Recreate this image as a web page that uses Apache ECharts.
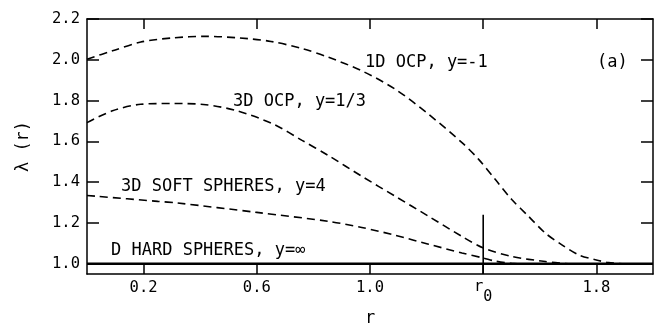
<!DOCTYPE html>
<html>
<head>
<meta charset="utf-8">
<script src="https://cdn.jsdelivr.net/npm/echarts@6/dist/echarts.min.js"></script>
<style>
html,body{margin:0;padding:0;background:#fff;}
#chart{width:657px;height:326px;}
</style>
</head>
<body>
<div id="chart"></div>
<script>
// ---- data ----
var ocp1dR = [0, 0.09, 0.19, 0.30, 0.42, 0.54, 0.65, 0.76, 0.854, 0.971, 1.089, 1.207, 1.325, 1.384, 1.443, 1.501, 1.56, 1.619, 1.678, 1.737, 1.796, 1.843, 1.90];
var ocp1dL = [2.003, 2.044, 2.087, 2.107, 2.115, 2.107, 2.090, 2.055, 2.012, 1.946, 1.856, 1.733, 1.594, 1.512, 1.413, 1.315, 1.233, 1.151, 1.093, 1.044, 1.020, 1.006, 1.0];

var ocp3dR = [0, 0.09, 0.19, 0.31, 0.42, 0.53, 0.66, 0.76, 0.854, 0.971, 1.089, 1.207, 1.325, 1.401, 1.501, 1.62, 1.70];
var ocp3dL = [1.692, 1.750, 1.782, 1.786, 1.780, 1.750, 1.684, 1.605, 1.530, 1.429, 1.331, 1.233, 1.134, 1.077, 1.036, 1.011, 1.0];

var softR = [0, 0.25, 0.32, 0.60, 0.854, 0.971, 1.089, 1.207, 1.325, 1.401, 1.443, 1.50, 1.55];
var softL = [1.335, 1.306, 1.298, 1.252, 1.208, 1.178, 1.140, 1.096, 1.053, 1.028, 1.013, 1.002, 1.0];

var hardR = [0, 2.0];
var hardL = [1.0, 1.0];

var r0LineR = [1.4, 1.4];
var r0LineL = [0.95, 1.24];

var xTicks = [0.2, 0.6, 1.0, 1.4, 1.8];
var xTickLabels = ['0.2', '0.6', '1.0', 'r0', '1.8'];
var yTicks = [1.0, 1.2, 1.4, 1.6, 1.8, 2.0, 2.2];
var yTickLabels = ['1.0', '1.2', '1.4', '1.6', '1.8', '2.0', '2.2'];

var curveLabels = ['1D OCP, y=-1', '3D OCP, y=1/3', '3D SOFT SPHERES, y=4', 'D HARD SPHERES, y=\u221E', '(a)'];

function pairs(xs, ys){ return xs.map(function(x,i){ return [x, ys[i]]; }); }

var FONT = 'DejaVu Sans Mono';
var chart = echarts.init(document.getElementById('chart'), null, {renderer:'canvas'});

var axisLineStyle = {color:'#000', width:1.5};
function xAx(pos, show){
  return {
    type:'value', position:pos, min:0, max:2.0,
    axisLine:{show:true, onZero:false, lineStyle:axisLineStyle},
    axisTick:{show:true, inside:true, length:10, customValues:xTicks, lineStyle:{color:'#000', width:1.5}},
    axisLabel:{show:show, margin:5, customValues:xTicks, color:'#000', fontFamily:FONT, fontSize:15.5,
      formatter:function(v){
        var i = xTicks.findIndex(function(t){return Math.abs(t-v)<1e-6;});
        var s = i>=0 ? xTickLabels[i] : '';
        if (s === 'r0') return '{r|r}{s|0}';
        return '{n|' + s + '}';
      },
      rich:{
        n:{fontFamily:FONT, fontSize:15.5, color:'#000', verticalAlign:'middle', lineHeight:18},
        r:{fontFamily:FONT, fontSize:15.5, color:'#000', verticalAlign:'top', lineHeight:26},
        s:{fontFamily:FONT, fontSize:15, color:'#000', verticalAlign:'bottom', lineHeight:26}
      }
    },
    splitLine:{show:false},
    name: show ? 'r' : '', nameLocation:'middle', nameGap:28,
    nameTextStyle:{color:'#000', fontFamily:FONT, fontSize:17}
  };
}
function yAx(pos, show){
  return {
    type:'value', position:pos, min:0.95, max:2.2,
    axisLine:{show:true, onZero:false, lineStyle:axisLineStyle},
    axisTick:{show:true, inside:true, length:12, customValues:yTicks, lineStyle:{color:'#000', width:1.5}},
    axisLabel:{show:show, margin:7, customValues:yTicks, color:'#000', fontFamily:FONT, fontSize:15.5,
      formatter:function(v){
        var i = yTicks.findIndex(function(t){return Math.abs(t-v)<1e-6;});
        return i>=0 ? yTickLabels[i] : '';
      }
    },
    splitLine:{show:false},
    name: show ? '\u03BB (r)' : '', nameLocation:'middle', nameGap:55, nameRotate:90,
    nameTextStyle:{color:'#000', fontFamily:FONT, fontSize:17}
  };
}

function dashed(data){
  return {type:'line', data:data, smooth:0.3, symbol:'none', xAxisIndex:0, yAxisIndex:0,
    lineStyle:{color:'#000', width:1.6, type:[8,5]}, silent:true, z:3};
}

var txtStyle = {fill:'#000', font:'17px ' + FONT};
chart.setOption({
  animation:false,
  backgroundColor:'#fff',
  grid:{left:87, right:4, top:19, bottom:52, containLabel:false, outerBoundsMode:'none'},
  xAxis:[xAx('bottom', true), xAx('top', false)],
  yAxis:[yAx('left', true), yAx('right', false)],
  series:[
    dashed(pairs(ocp1dR, ocp1dL)),
    dashed(pairs(ocp3dR, ocp3dL)),
    dashed(pairs(softR, softL)),
    {type:'line', data:pairs(hardR, hardL), symbol:'none', lineStyle:{color:'#000', width:2.6}, silent:true, z:4},
    {type:'line', data:pairs(r0LineR, r0LineL), symbol:'none', lineStyle:{color:'#000', width:1.6}, silent:true, z:4}
  ],
  graphic:[
    {type:'text', left:365, top:54, style:Object.assign({text:curveLabels[0]}, txtStyle)},
    {type:'text', left:233, top:93, style:Object.assign({text:curveLabels[1]}, txtStyle)},
    {type:'text', left:121, top:178, style:Object.assign({text:curveLabels[2]}, txtStyle)},
    {type:'text', left:111, top:242, style:Object.assign({text:curveLabels[3]}, txtStyle)},
    {type:'text', left:597, top:54, style:Object.assign({text:curveLabels[4]}, txtStyle)}
  ]
});
</script>
</body>
</html>
